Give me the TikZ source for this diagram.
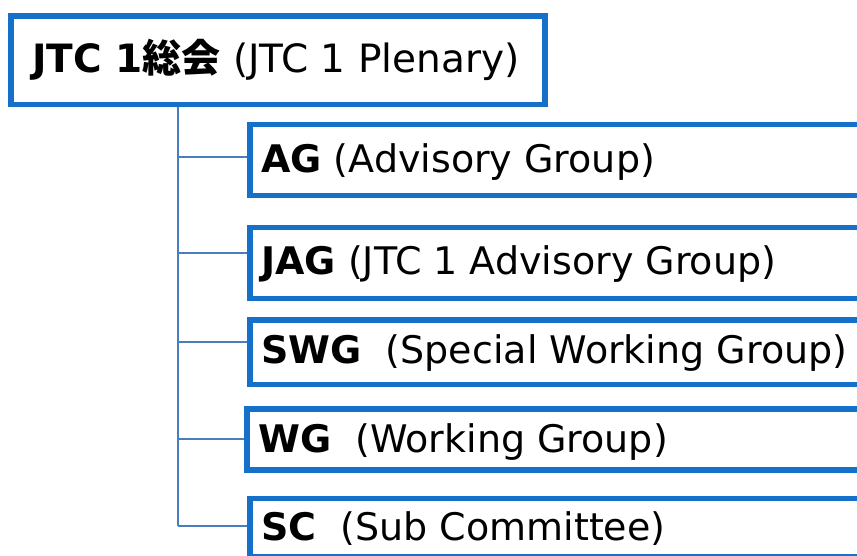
\documentclass[tikz,border=0pt]{standalone}
\usepackage{fontspec}
\setmainfont{DejaVu Sans}
\newfontfamily\cjk{Noto Sans CJK JP}
\definecolor{boxblue}{HTML}{1470C8}
\definecolor{connblue}{HTML}{4A7CC0}
\begin{document}
\begin{tikzpicture}[x=1pt,y=-1pt,
  box/.style={draw=boxblue, line width=5.5pt, fill=white, inner sep=0pt, rectangle},
  conn/.style={draw=connblue, line width=2.4pt},
  lbl/.style={anchor=base west, inner sep=0pt, font=\fontsize{38}{45}\selectfont, text=black}]
\clip (0,0) rectangle (857,556);
\fill[white] (0,0) rectangle (857,556);
% boxes
\node[box, minimum width=534pt, minimum height=88.5pt] (top) at (278,60.25) {};
\node[box, minimum width=800pt, minimum height=71pt] (ag) at (650,160) {};
\node[box, minimum width=800pt, minimum height=71pt] (jag) at (650,263) {};
\node[box, minimum width=800pt, minimum height=64.5pt] (swg) at (650,352.25) {};
\node[box, minimum width=806pt, minimum height=61pt] (wg) at (650,439.5) {};
\node[box, minimum width=800pt, minimum height=58.5pt] (sc) at (650,527.75) {};
% labels
\node[lbl, font=\fontsize{39}{46}\selectfont] (ttop) at (32,72.5) {\textbf{JTC 1{\cjk\bfseries 総会}} (JTC 1 Plenary)};
\node[lbl] (tag) at (261,172.7) {\textbf{AG} (Advisory Group)};
\node[lbl] (tjag) at (261,275) {\textbf{JAG} (JTC 1 Advisory Group)};
\node[lbl] (tswg) at (261,363) {\textbf{SWG}\ \ (Special Working Group)};
\node[lbl] (twg) at (258,452) {\textbf{WG}\ \ (Working Group)};
\node[lbl] (tsc) at (261,540) {\textbf{SC}\ \ (Sub Committee)};
% trunk coordinates
\coordinate (b1) at (178,157);
\coordinate (b2) at (178,253);
\coordinate (b3) at (178,342);
\coordinate (b4) at (178,439);
\coordinate (b5) at (178,526);
% connectors
\draw[conn] (top.south -| b1) -- (b5);
\draw[conn] (b1) -- (ag.west |- b1);
\draw[conn] (b2) -- (jag.west |- b2);
\draw[conn] (b3) -- (swg.west |- b3);
\draw[conn] (b4) -- (wg.west |- b4);
\draw[conn] (b5) -- (sc.west |- b5);
\end{tikzpicture}
\end{document}
